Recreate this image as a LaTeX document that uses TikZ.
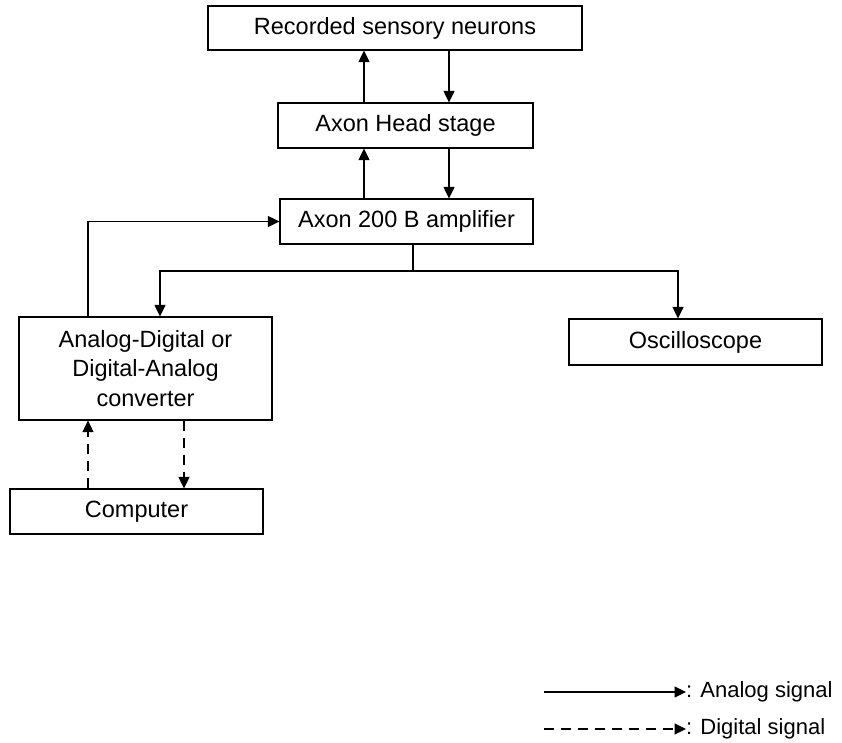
\documentclass[tikz,border=0pt]{standalone}
\usepackage{fontspec}
\setmainfont{Liberation Sans}
\usetikzlibrary{arrows.meta,calc}
\begin{document}
\begin{tikzpicture}[x=1pt,y=-1pt,
  box/.style={draw, line width=1.2pt, rectangle, inner sep=0pt, align=center,
    font=\fontsize{23.5}{29.5}\selectfont},
  conn/.style={line width=1.2pt, -{Triangle[length=11.5pt,width=11pt]}},
  dconn/.style={conn, dash pattern=on 10pt off 7pt},
  lbl/.style={inner sep=0pt, anchor=west, font=\fontsize{22}{26}\selectfont}]
\useasboundingbox (0,0) rectangle (842,742);
\node[box, minimum width=374pt, minimum height=44pt] (rec) at (395,28) {Recorded sensory neurons};
\node[box, minimum width=255pt, minimum height=45pt] (head) at (405.5,125.5) {Axon Head stage};
\node[box, minimum width=253pt, minimum height=45pt] (amp) at (406.5,221.5) {Axon 200 B amplifier};
\node[box, minimum width=253pt, minimum height=103pt] (adc) at (145.5,368.5) {Analog-Digital or\\Digital-Analog\\converter};
\node[box, minimum width=253pt, minimum height=46pt] (osc) at (695.5,342) {Oscilloscope};
\node[box, minimum width=253pt, minimum height=45pt] (comp) at (136.5,511.5) {Computer};
% x positions
\coordinate (xup) at (364,0);
\coordinate (xdn) at (449,0);
\coordinate (xstem) at (413,0);
\coordinate (xadcin) at (160,0);
\coordinate (xosc) at (678,0);
\coordinate (xfb) at (88,0);
\coordinate (xdd) at (184,0);
\coordinate (ybus) at (0,271);
% vertical signal chain
\draw[conn] (head.north -| xup) -- (rec.south -| xup);
\draw[conn] (rec.south -| xdn) -- (head.north -| xdn);
\draw[conn] (amp.north -| xup) -- (head.south -| xup);
\draw[conn] (head.south -| xdn) -- (amp.north -| xdn);
% amplifier to ADC and oscilloscope
\draw[line width=1.2pt] (amp.south -| xstem) -- (xstem |- ybus);
\draw[conn] (xstem |- ybus) -- (xadcin |- ybus) -- (adc.north -| xadcin);
\draw[conn] (xstem |- ybus) -- (xosc |- ybus) -- (osc.north -| xosc);
% ADC back to amplifier
\draw[conn] (adc.north -| xfb) |- (amp.west);
% digital links
\draw[dconn] (comp.north -| xfb) -- (adc.south -| xfb);
\draw[dconn] (adc.south -| xdd) -- (comp.north -| xdd);
% legend
\node[lbl] (la) at (686,692) {: Analog signal};
\node[lbl] (ld) at (686,729) {: Digital signal};
\coordinate (las) at (544,692);
\coordinate (lds) at (544,729);
\draw[conn] (las) -- (la.west);
\draw[dconn] (lds) -- (ld.west);
\end{tikzpicture}
\end{document}
